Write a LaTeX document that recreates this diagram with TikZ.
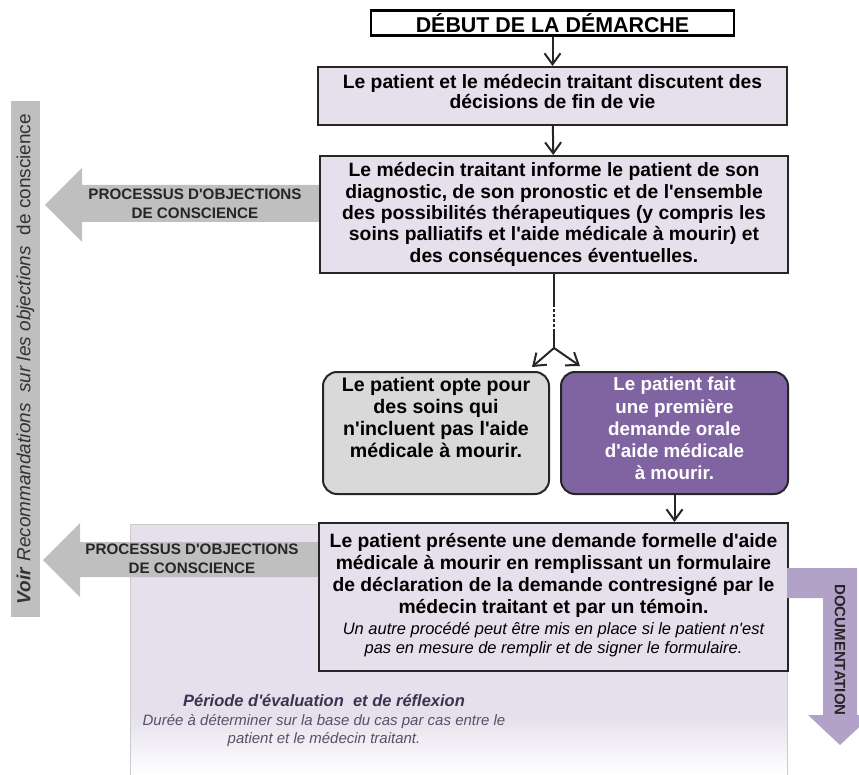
\documentclass[tikz,border=0pt]{standalone}
\usepackage{fontspec}
\setmainfont{Liberation Sans}[Ligatures=TeXOff]
\usetikzlibrary{positioning, arrows.meta}

\definecolor{boxfill}{HTML}{E5E0EC}
\definecolor{optgray}{HTML}{D9D9D9}
\definecolor{reqpurple}{HTML}{8064A2}
\definecolor{docpurple}{HTML}{B3A2C7}
\definecolor{sidegray}{HTML}{BFBFBF}
\definecolor{edgegray}{HTML}{262626}
\definecolor{periodtext}{HTML}{3F3151}

\newcommand{\notefont}{\fontsize{16.5}{19}\selectfont\mdseries\itshape}

\tikzset{
    flowline/.style = {draw = edgegray, line width = 2pt, -{Straight Barb[length = 11pt, width = 16pt]}},
    flowbox/.style = {draw = edgegray, line width = 2pt, rectangle, fill = boxfill, inner sep = 0pt, align = center, font = \fontsize{19.3}{21.3}\selectfont\bfseries},
    choicebox/.style = {flowbox, rounded corners = 14pt, minimum width = 226pt, minimum height = 122pt, font = \fontsize{18.8}{22.2}\selectfont\bfseries},
    sidetext/.style = {align = center, font = \fontsize{15.2}{19}\selectfont\bfseries, text = black!85},
}

\begin{document}
\begin{tikzpicture}[x = 1pt, y = -1pt]
    \clip (0,0) rectangle (859,775);

    % evaluation period
    \fill [boxfill] (130,524) rectangle (787,715);
    \shade [top color = boxfill, bottom color = white] (130,715) rectangle (787,775);
    \draw [black!20, line width = 0.6pt] (130,775) -- (130,524) -- (787,524) -- (787,775);

    % conscientious objection arrows
    \fill [sidegray] (320,185) -- (82,185) -- (82,168) -- (45,205) -- (82,242) -- (82,222) -- (320,222) -- cycle;
    \fill [sidegray] (318,542) -- (80,542) -- (80,523) -- (43,560) -- (80,597) -- (80,577) -- (318,577) -- cycle;
    \node [sidetext] (objtop) at (195,204) {PROCESSUS D'OBJECTIONS\\DE CONSCIENCE} ;
    \node [sidetext] (objbot) at (192,559) {PROCESSUS D'OBJECTIONS\\DE CONSCIENCE} ;

    \node [rotate = 90, fill = sidegray, minimum width = 516pt, minimum height = 29pt, inner sep = 0pt, text = black!80, font = \fontsize{19}{20}\selectfont] (seerec) at (25.5,359)
        {\textbf{\textit{Voir}} \textit{Recommandations} \ \textit{sur les objections} \ de conscience} ;

    % main flow
    \node [draw = black, line width = 2.4pt, rectangle, fill = white, minimum width = 363pt, minimum height = 25pt, inner sep = 0pt, font = \fontsize{21.4}{22}\selectfont\bfseries] (start) at (552.5,23) {DÉBUT DE LA DÉMARCHE} ;
    \node [flowbox, minimum width = 469pt, minimum height = 58pt, below = 29.3pt of start] (discuss)
        {Le patient et le médecin traitant discutent des\\[-1.3pt]décisions de fin de vie\\[-12pt]\mbox{}} ;
    \node [flowbox, minimum width = 468pt, minimum height = 117pt, below = 29pt of discuss, xshift = 1.5pt] (inform)
        {Le médecin traitant informe le patient de son\\diagnostic, de son pronostic et de l'ensemble\\des possibilités thérapeutiques (y compris les\\soins palliatifs et l'aide médicale à mourir) et\\des conséquences éventuelles.\\[-17pt]\mbox{}} ;

    \node [choicebox, fill = optgray, font = \fontsize{19.6}{22.2}\selectfont\bfseries, below = 97pt of inform.south west, anchor = north west, xshift = 3pt] (optout)
        {Le patient opte pour\\des soins qui\\n'incluent pas l'aide\\médicale à mourir.\\[9pt]\mbox{}} ;
    \node [choicebox, fill = reqpurple, text = white, minimum width = 227pt, right = 10pt of optout] (oralreq)
        {Le patient fait\\une première\\demande orale\\d'aide médicale\\à mourir.\\[-13pt]\mbox{}} ;

    \node [flowbox, minimum width = 469pt, minimum height = 148pt, below = 27pt of oralreq.south east, anchor = north east, font = \fontsize{19.3}{22}\selectfont\bfseries] (formal)
        {Le patient présente une demande formelle d'aide\\médicale à mourir en remplissant un formulaire\\de déclaration de la demande contresigné par le\\médecin traitant et par un témoin.\\[-1pt]
        {\notefont Un autre procédé peut être mis en place si le patient n'est}\\[-3pt]
        {\notefont pas en mesure de remplir et de signer le formulaire.}\\[-15pt]\mbox{}} ;

    % documentation arrow
    \fill [docpurple] (787,568) -- (857,568) -- (857,715) -- (872,715) -- (840,745) -- (808,715) -- (823,715) -- (823,598) -- (787,598) -- cycle;
    \node [rotate = -90, text = black!85, font = \fontsize{15}{16}\selectfont\bfseries] (doclabel) at (840,650) {DOCUMENTATION} ;

    \node [align = center, text = periodtext!60!gray, font = \fontsize{15}{18.5}\selectfont\itshape] (period) at (324,721)
        {\textcolor{periodtext}{\fontsize{16.5}{18.5}\selectfont\bfseries Période d'évaluation \ et de réflexion}\\Durée à déterminer sur la base du cas par cas entre le\\patient et le médecin traitant.} ;

    % connectors
    \coordinate [below = 30pt of inform.south] (dottop) ;
    \coordinate [below = 25pt of dottop] (dotbot) ;
    \coordinate [below = 19pt of dotbot] (split) ;
    \coordinate (optin) at ([xshift = -18pt, yshift = 4pt] optout.north east) ;
    \coordinate (reqin) at ([xshift = 20pt, yshift = 5pt] oralreq.north west) ;

    \draw [flowline] (start) -- (discuss) ;
    \draw [flowline] (discuss) -- (inform) ;
    \draw [draw = edgegray, line width = 2pt] (inform.south) -- (dottop) ;
    \draw [draw = edgegray, line width = 2pt, dash pattern = on 3pt off 2pt] (dottop) -- (dotbot) ;
    \draw [draw = edgegray, line width = 2pt] (dotbot) -- (split) ;
    \draw [flowline] (split) -- (optin) ;
    \draw [flowline] (split) -- (reqin) ;
    \draw [flowline] (oralreq.south) -- (oralreq.south |- formal.north) ;
\end{tikzpicture}
\end{document}
